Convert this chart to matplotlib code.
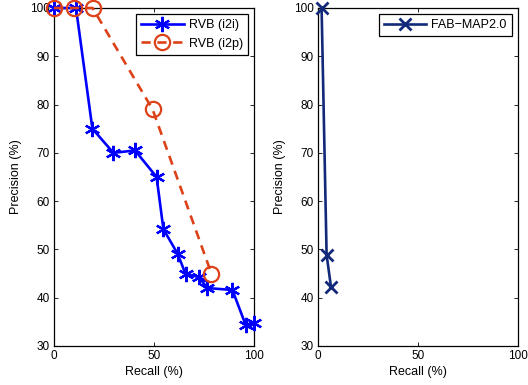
import matplotlib
matplotlib.use("Agg")
import matplotlib.pyplot as plt

plt.rcParams['font.family'] = ['Liberation Sans', 'DejaVu Sans']
plt.rcParams['font.size'] = 8

# Data
i2i_recall = [0, 11, 19.2, 29.7, 40.5, 51.3, 54.7, 61.8, 65.8, 72.3, 76.7, 89.2, 95.8, 100]
i2i_prec = [100, 100, 75, 70, 70.5, 65, 54.2, 49.1, 44.9, 44.3, 42, 41.6, 34.4, 34.8]
i2p_recall = [0, 10, 19.3, 49.3, 78.7]
i2p_prec = [100, 100, 100, 79, 45]
fab_recall = [1.8, 4.3, 6.5]
fab_prec = [100, 48.9, 42.2]

xticks = [0, 50, 100]
yticks = [30, 40, 50, 60, 70, 80, 90, 100]

fig = plt.figure(figsize=(5.28, 3.85), dpi=100)
W, H = 528, 385
ax1 = fig.add_axes([54 / W, 1 - 346 / H, 200 / W, 338 / H])
ax2 = fig.add_axes([318 / W, 1 - 346 / H, 200 / W, 338 / H])

ax1.plot(i2i_recall, i2i_prec, color='#0000ff', lw=1.9, marker=(6, 2, 0),
         ms=11, mew=1.6, label='RVB (i2i)', clip_on=False, zorder=3)
ax1.plot(i2p_recall, i2p_prec, color='#dd4118', lw=1.9, ls=(0, (3.5, 2.5)), marker='o',
         ms=11, mew=1.6, mfc='none', label='RVB (i2p)', clip_on=False, zorder=3)
ax2.plot(fab_recall, fab_prec, color='#12297a', lw=1.9, marker='x',
         ms=9, mew=2.0, label='FAB\u2212MAP2.0', clip_on=False, zorder=3)

for ax in (ax1, ax2):
    ax.set_xlim(0, 100)
    ax.set_ylim(30, 100)
    ax.set_xticks(xticks)
    ax.set_yticks(yticks)
    ax.tick_params(direction='in', top=True, right=True, length=3, width=0.6,
                   labelsize=8.5, pad=3, colors='black')
    for s in ax.spines.values():
        s.set_linewidth(0.9)
        s.set_color('black')
    ax.set_xlabel('Recall (%)', fontsize=9, labelpad=3)
    ax.set_ylabel('Precision (%)', fontsize=9, labelpad=6)
    leg = ax.legend(loc='upper right', fontsize=9, fancybox=False, framealpha=1,
                    edgecolor='black', borderpad=0.4, handlelength=3.4,
                    handletextpad=0.4, labelspacing=0.5, borderaxespad=0.5)
    leg.get_frame().set_linewidth(0.9)

fig.savefig('out.png', dpi=100)
